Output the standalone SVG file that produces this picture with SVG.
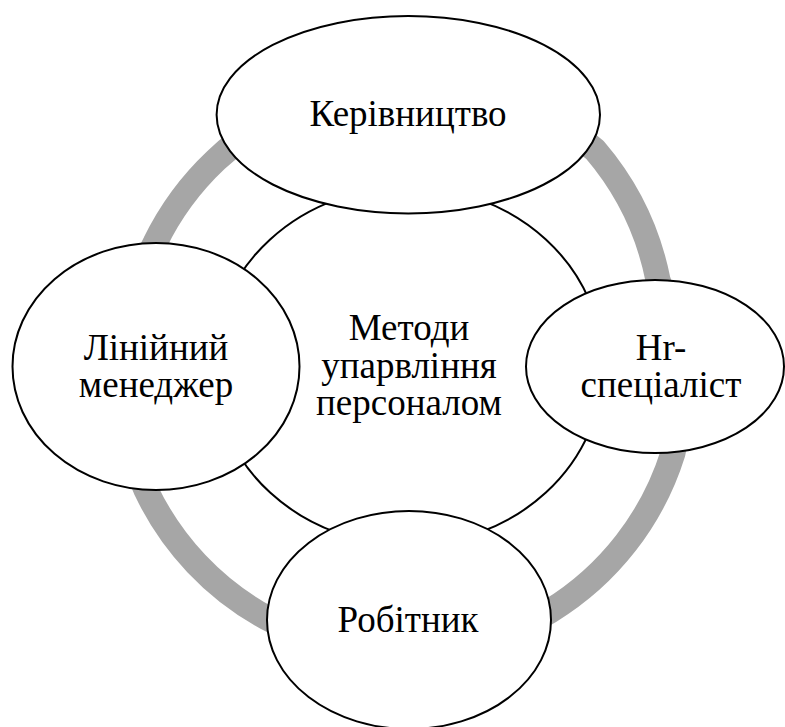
<svg xmlns="http://www.w3.org/2000/svg" width="785" height="727" viewBox="0 0 785 727">
<style>
.node{fill:#ffffff;stroke:#000000;stroke-width:2}
.ring{fill:none;stroke:#a6a6a6;stroke-width:25;stroke-linejoin:round}
</style>
<rect width="785" height="727" fill="#ffffff"/>
<g id="connectors">
<path class="ring" d="M216,160 A285,285 0 0 0 155,243 A285,285 0 0 0 146,490 A285,285 0 0 0 267,618 A285,285 0 0 0 550,611 A285,285 0 0 0 673,453 A285,285 0 0 0 658,280 A285,285 0 0 0 595,150 A285,285 0 0 0 216,160 Z"/>
</g>
<g font-family="'Liberation Serif', 'DejaVu Serif', serif" font-size="37" fill="#000000" text-anchor="middle">
<g id="center">
<ellipse class="node" cx="408" cy="366" rx="195" ry="179"/>
<text x="409" y="340">Методи</text>
<text x="409" y="378">упарвління</text>
<text x="409" y="415">персоналом</text>
</g>
<g id="top">
<ellipse class="node" cx="408.3" cy="114.7" rx="191.7" ry="98.7"/>
<text x="408" y="126">Керівництво</text>
</g>
<g id="left">
<ellipse class="node" cx="156" cy="366.5" rx="143.5" ry="123.5"/>
<text x="156" y="360">Лінійний</text>
<text x="156" y="397">менеджер</text>
</g>
<g id="right">
<ellipse class="node" cx="655" cy="366.5" rx="129" ry="86.5"/>
<text x="661" y="360">Hr-</text>
<text x="661" y="397">спеціаліст</text>
</g>
<g id="bottom">
<ellipse class="node" cx="409" cy="620" rx="142" ry="109"/>
<text x="408" y="632">Робітник</text>
</g>
</g>
</svg>
